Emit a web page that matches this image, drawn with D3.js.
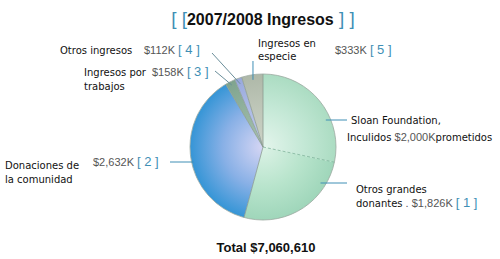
<!DOCTYPE html>
<html>
<head>
<meta charset="utf-8">
<script src="https://cdn.jsdelivr.net/npm/d3@7"></script>
<style>
  body { margin: 0; background: #fff; }
  svg { display: block; }
</style>
</head>
<body>
<div id="app"></div>
<script>
// data (thousands of dollars)
const categories = ["Sloan Foundation", "Otros grandes donantes", "Donaciones de la comunidad", "Ingresos por trabajos", "Otros ingresos", "Ingresos en especie"];
const values = [2000, 1826, 2632, 158, 112, 333];
const valueLabels = ["$2,000K", "$1,826K", "$2,632K", "$158K", "$112K", "$333K"];
const refLabels = ["", "[ 1 ]", "[ 2 ]", "[ 3 ]", "[ 4 ]", "[ 5 ]"];
const totalLabel = "Total $7,060,610";
const titleText = "2007/2008 Ingresos";

const edgeColors = ["#abdcc2", "#9fd6ba", "#3595d6", "#7fa48e", "#98a8dc", "#aeb8a8"];
const midColors = ["#c4e8d6", "#b8e4cc", "#88b0e6", "#92b29e", "#adbbe6", "#bec6b8"];
const centerColors = ["#e4f5ec", "#dcf2e6", "#d6d6f4", "#a8c4b2", "#c0cbee", "#ccd2c6"];

const w = 500, h = 259;
const cx = 263, cy = 147, r = 73;
const sans = "'DejaVu Sans', Verdana, sans-serif";
const arial = "'Liberation Sans', Arial, sans-serif";
const teal = "#3f8fb5";

const svg = d3.select("#app").append("svg")
  .attr("width", w)
  .attr("height", h)

const defs = svg.append("defs")

const pie = d3.pie().sort(null).value(d => d)
const arcs = pie(values)
const arc = d3.arc().innerRadius(0).outerRadius(r)

// gradients live in the pie group's coordinates (centre = 0,0)
arcs.forEach((a, i) => {
  const g = defs.append("radialGradient")
    .attr("id", "g" + i)
    .attr("gradientUnits", "userSpaceOnUse")
    .attr("cx", 0).attr("cy", 0).attr("r", r)
  g.append("stop").attr("offset", 0).attr("stop-color", centerColors[i])
  g.append("stop").attr("offset", 0.55).attr("stop-color", midColors[i])
  g.append("stop").attr("offset", 1).attr("stop-color", edgeColors[i])
})

const pieG = svg.append("g").attr("transform", `translate(${cx},${cy})`)

pieG.selectAll("path.slice")
  .data(arcs)
  .enter()
  .append("path")
  .attr("class", "slice")
  .attr("d", arc)
  .attr("fill", (d, i) => `url(#g${i})`)
  .attr("stroke", "none")

// slice borders
pieG.selectAll("line.border")
  .data(arcs)
  .enter()
  .append("line")
  .attr("x2", d => r * Math.sin(d.startAngle))
  .attr("y2", d => -r * Math.cos(d.startAngle))
  .attr("stroke", (d, i) => i == 1 ? "#7fb49a" : "#8a9a90")
  .attr("stroke-width", 0.8)
  .attr("stroke-dasharray", (d, i) => i == 1 ? "3,2" : null)

pieG.append("circle")
  .attr("r", r)
  .attr("fill", "none")
  .attr("stroke", "#9aa8a0")
  .attr("stroke-width", 0.8)

// title
const title = svg.append("text")
  .attr("x", 263)
  .attr("y", 25)
  .attr("text-anchor", "middle")
  .style("font-family", arial)
  .style("font-size", "16px")
title.append("tspan").attr("fill", teal).style("font-size", "19px").text("[ [")
title.append("tspan").attr("fill", "#111").style("font-weight", "bold").text(titleText)
title.append("tspan").attr("fill", teal).style("font-size", "19px").text(" ] ]")

// helpers
function pt(i, k) {
  const a = (arcs[i].startAngle + arcs[i].endAngle) / 2
  return [cx + k * r * Math.sin(a), cy - k * r * Math.cos(a)]
}
function edgeX(y, side) {
  const dy = y - cy
  return cx + side * Math.sqrt(r * r - dy * dy)
}
function leader(x1, y1, x2, y2, color) {
  svg.append("line")
    .attr("x1", x1).attr("y1", y1).attr("x2", x2).attr("y2", y2)
    .attr("stroke", color).attr("stroke-width", 1)
}
function label(x, y, parts) {
  const t = svg.append("text").attr("x", x).attr("y", y)
  parts.forEach(p => {
    const s = t.append("tspan").text(p[0])
    if (p[1] == "v") s.style("font-family", arial).style("font-size", "11px").attr("fill", "#555")
    else if (p[1] == "r") s.style("font-family", arial).style("font-size", "13px").attr("fill", teal)
    else s.style("font-family", sans).style("font-size", "10px").attr("fill", "#111")
  })
}

// [0] Sloan
leader(edgeX(120, 1) - 5, 120, 347, 120, teal)
label(351, 124, [["Sloan Foundation,", "t"]])
label(347, 141, [["Inculidos ", "t"], [valueLabels[0], "v"], ["prometidos", "t"]])

// [1] Otros grandes donantes
leader(edgeX(183, 1) - 6, 183, 347, 183, teal)
label(356, 193, [["Otros grandes", "t"]])
label(356, 207, [["donantes", "t"], [" . " + valueLabels[1] + " ", "v"], [refLabels[1], "r"]])

// [2] Donaciones
leader(170, 162, edgeX(162, -1) + 2, 162, teal)
label(5, 169, [["Donaciones de", "t"]])
label(5, 183, [["la comunidad", "t"]])
label(93, 166, [[valueLabels[2] + " ", "v"], [refLabels[2], "r"]])

// [3] Ingresos por trabajos
const p3 = pt(3, 0.95)
leader(215, 71, p3[0], p3[1], "#6a8e9a")
label(84, 76, [["Ingresos por", "t"]])
label(84, 90, [["trabajos", "t"]])
label(152, 76, [[valueLabels[3] + " ", "v"], [refLabels[3], "r"]])

// [4] Otros ingresos
const p4 = pt(4, 0.92)
leader(212, 53, p4[0], p4[1], "#6a8e9a")
label(60, 54, [["Otros ingresos", "t"]])
label(144, 54, [[valueLabels[4] + " ", "v"], [refLabels[4], "r"]])

// [5] Ingresos en especie
const p5 = pt(5, 0.93)
leader(p5[0], 61, p5[0], p5[1], teal)
label(258, 47, [["Ingresos en", "t"]])
label(258, 60, [["especie", "t"]])
label(335, 54, [[valueLabels[5] + " ", "v"], [refLabels[5], "r"]])

// total
svg.append("text")
  .attr("x", 266)
  .attr("y", 252)
  .attr("text-anchor", "middle")
  .style("font-family", arial)
  .style("font-size", "13px")
  .style("font-weight", "bold")
  .attr("fill", "#111")
  .text(totalLabel)
</script>
</body>
</html>
